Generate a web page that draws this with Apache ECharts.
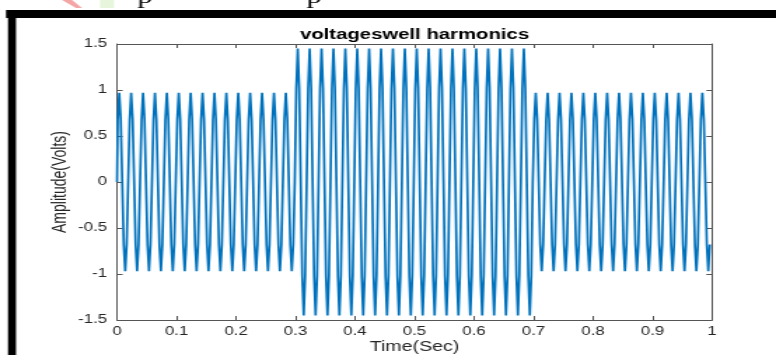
<!DOCTYPE html>
<html>
<head>
<meta charset="utf-8">
<script src="https://cdn.jsdelivr.net/npm/echarts@6/dist/echarts.min.js"></script>
<style>
  html, body { margin: 0; padding: 0; background: #fff; overflow: hidden; }
  /* the source figure is stretched sideways, so draw narrow and widen it */
  #swell-box { width: 554px; height: 355px; transform: scaleX(1.4007); transform-origin: 0 0; }
</style>
</head>
<body>
<div id="swell-box"></div>
<script>
// one 20 ms period (8 samples), normal level and swell level
const normalCycle = [0, 0.68, 0.97, 0.68, 0, -0.68, -0.97, -0.68];
const swellCycle = [0, 1.02, 1.45, 1.02, 0, -1.02, -1.45, -1.02];
// 0-0.3 s normal, 0.3-0.7 s swell, 0.7-1 s normal
const stretchKinds = ["normal", "swell", "normal"];
const stretchCycles = [15, 20, 15];
const sampleStep = 0.0025;

const xTickLabels = ["0", "0.1", "0.2", "0.3", "0.4", "0.5", "0.6", "0.7", "0.8", "0.9", "1"];
const yTickLabels = ["-1.5", "-1", "-0.5", "0", "0.5", "1", "1.5"];

const SX = 776 / 554;
const W = 554;
const axisColor = "#555";
const textColor = "#262626";
const font = "'Liberation Sans', Arial, sans-serif";

let wave = [];
let k = 0;
stretchKinds.forEach((kind, i) => {
  const cyc = kind === "swell" ? swellCycle : normalCycle;
  for (let c = 0; c < stretchCycles[i]; c++) {
    cyc.forEach((v) => {
      wave.push([+(k * sampleStep).toFixed(4), v]);
      k++;
    });
  }
});

function boxAxis(pos, isX, withLabel) {
  const ax = {
    type: "value",
    position: pos,
    min: isX ? 0 : -1.5,
    max: isX ? 1 : 1.5,
    interval: isX ? 0.1 : 0.5,
    axisLine: { show: true, onZero: false, lineStyle: { color: axisColor, width: 1 } },
    axisTick: { show: true, inside: true, length: 4, lineStyle: { color: axisColor } },
    axisLabel: { show: false },
    splitLine: { show: false },
  };
  if (withLabel) {
    ax.axisLabel = {
      show: true,
      color: textColor,
      fontSize: 12,
      fontFamily: font,
      margin: isX ? 6 : 7,
      formatter: isX
        ? (v) => xTickLabels[Math.round(v * 10)]
        : (v) => yTickLabels[Math.round((v + 1.5) * 2)],
    };
  }
  return ax;
}

const xMain = boxAxis("bottom", true, true);
xMain.name = "Time(Sec)";
xMain.nameLocation = "middle";
xMain.nameGap = 20;
xMain.nameMoveOverlap = false;
xMain.nameTextStyle = { color: textColor, fontSize: 14, fontFamily: font };

const yMain = boxAxis("left", false, true);
yMain.name = "Amplitude(Volts)";
yMain.nameLocation = "middle";
yMain.nameGap = 33;
yMain.nameMoveOverlap = false;
yMain.nameTextStyle = { color: textColor, fontSize: 14, fontFamily: font };

const serifP = "22px 'Liberation Serif', serif";

const option = {
  backgroundColor: "#fff",
  animation: false,
  grid: { left: 117 / SX, right: W - 712 / SX, top: 44, bottom: 35, outerBoundsMode: "none" },
  xAxis: [xMain, boxAxis("top", true, false)],
  yAxis: [yMain, boxAxis("right", false, false)],
  graphic: [
    // page frame pieces around the figure
    { type: "rect", shape: { x: 6 / SX, y: 10, width: W, height: 8 }, style: { fill: "#000" } },
    { type: "rect", shape: { x: 8 / SX, y: 10, width: 8 / SX, height: 345 }, style: { fill: "#000" } },
    { type: "polygon", shape: { points: [[62 / SX, 0], [72 / SX, 0], [82 / SX, 8], [76 / SX, 8]] }, style: { fill: "#f4a6a6" } },
    { type: "rect", shape: { x: 100 / SX, y: 0, width: 14 / SX, height: 8 }, style: { fill: "#e6f5dc" } },
    { type: "text", x: 145 / SX, y: 8, style: { text: "p", font: serifP, fill: "#000", textAlign: "center", textVerticalAlign: "bottom" } },
    { type: "text", x: 314 / SX, y: 8, style: { text: "p", font: serifP, fill: "#000", textAlign: "center", textVerticalAlign: "bottom" } },
    // title
    {
      type: "text",
      x: 414.5 / SX,
      y: 35,
      style: {
        text: "voltageswell harmonics",
        font: "bold 14.5px 'Liberation Sans', Arial, sans-serif",
        fill: "#000",
        textAlign: "center",
        textVerticalAlign: "middle",
      },
    },
  ],
  series: [
    {
      name: "voltage",
      type: "line",
      step: "middle",
      xAxisIndex: 0,
      yAxisIndex: 0,
      showSymbol: false,
      sampling: null,
      lineStyle: { color: "#0072BD", width: 1.7 },
      data: wave,
    },
  ],
};

const swellBox = echarts.init(document.getElementById("swell-box"));
swellBox.setOption(option);
</script>
</body>
</html>
